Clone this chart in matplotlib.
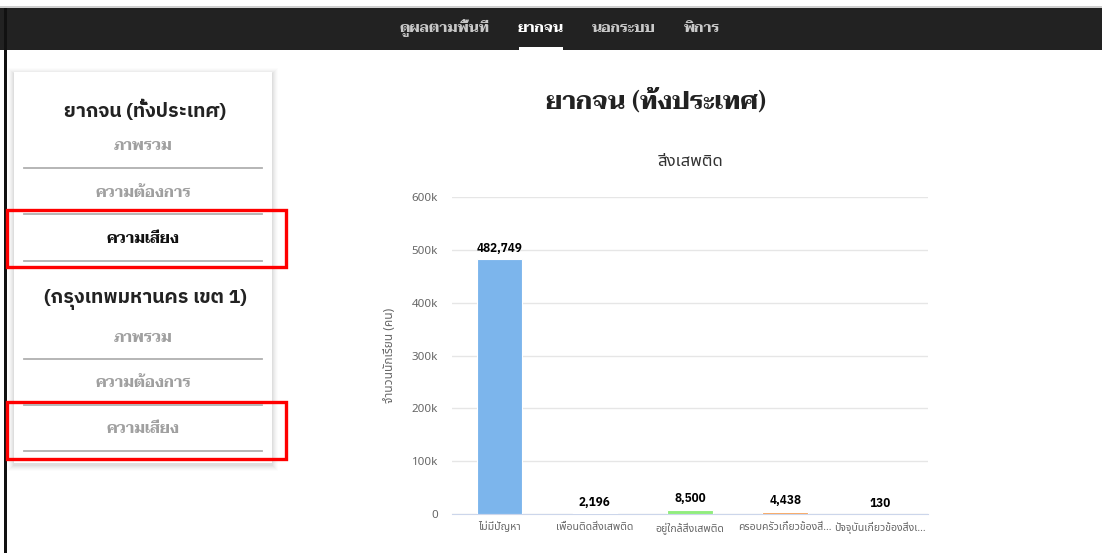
import matplotlib
matplotlib.use("Agg")
import matplotlib.pyplot as plt
from matplotlib.patches import Rectangle
from matplotlib.ticker import FuncFormatter

# data
categories = ["ไม่มีปัญหา", "เพื่อนติดสิ่งเสพติด", "อยู่ใกล้สิ่งเสพติด",
              "ครอบครัวเกี่ยวข้องสิ่งเสพติด", "ปัจจุบันเกี่ยวข้องสิ่งเสพติด"]
tick_labels = ["ไม่มีปัญหา", "เพื่อนติดสิ่งเสพติด", "อยู่ใกล้สิ่งเสพติด",
               "ครอบครัวเกี่ยวข้องสิ่…", "ปัจจุบันเกี่ยวข้องสิ่งเ…"]
students = [482749, 2196, 8500, 4438, 130]
bar_colors = ["#7cb5ec", "#434348", "#90ed7d", "#f7a35c", "#8085e9"]

nav_items = ["ดูผลตามพื้นที่", "ยากจน", "นอกระบบ", "พิการ"]
page_title = "ยากจน (ทั้งประเทศ)"
chart_title = "สิ่งเสพติด"
y_title = "จำนวนนักเรียน (คน)"
side_groups = ["ยากจน (ทั้งประเทศ)", "(กรุงเทพมหานคร เขต 1)"]
side_items = ["ภาพรวม", "ความต้องการ", "ความเสี่ยง"]

SANS = ["Noto Sans Thai", "DejaVu Sans"]
BOLD = ["IBM Plex Sans Thai", "DejaVu Sans"]
SERIF = ["Taviraj", "DejaVu Sans"]

W, H = 1102, 553
fig = plt.figure(figsize=(W / 100, H / 100), dpi=100)

# page background drawn in pixel coordinates
bg = fig.add_axes([0, 0, 1, 1])
bg.set_xlim(0, W)
bg.set_ylim(H, 0)
bg.axis("off")

bg.add_patch(Rectangle((0, 6), W, 2, color="#cfcfcf", lw=0))
bg.add_patch(Rectangle((0, 8), W, 42, color="#222222", lw=0))
bg.add_patch(Rectangle((4, 8), 3, H - 8, color="#111111", lw=0))

nav_x = [444, 541, 624, 702]
for i, (label, x) in enumerate(zip(nav_items, nav_x)):
    bg.text(x, 28, label, ha="center", va="center", fontsize=10.5, weight="bold",
            color="white" if i == 1 else "#c8c8c8", family=SERIF)
bg.add_patch(Rectangle((519, 47), 44, 3, color="white", lw=0))

# sidebar card with soft shadow
for k, a in zip(range(6, 0, -1), [0.012, 0.016, 0.02, 0.024, 0.028, 0.032]):
    bg.add_patch(Rectangle((14 - k, 72 - k + 2), 258 + 2 * k, 391 + 2 * k,
                           color="black", alpha=a, lw=0))
bg.add_patch(Rectangle((14, 72), 258, 391, color="white", lw=0))

group_y = [110, 299]
item_y = [[147, 193, 239], [338, 383, 429]]
line_y = [[168, 214, 261], [359, 405, 451]]
for g, name in enumerate(side_groups):
    bg.text(145, group_y[g], name, ha="center", va="center", fontsize=14,
            weight="bold", color="#222222", family=BOLD)
    for j, item in enumerate(side_items):
        active = (g == 0 and j == 2)
        bg.text(143, item_y[g][j], item, ha="center", va="center", fontsize=11,
                weight="bold", color="#111111" if active else "#a0a0a0", family=SERIF)
        bg.plot([24, 262], [line_y[g][j]] * 2, color="#b0b0b0", lw=1.3)

for top, bottom in [(210, 267), (402, 459)]:
    bg.add_patch(Rectangle((7, top), 279, bottom - top, fill=False,
                           edgecolor="#ff0000", lw=2.4))

bg.text(656, 101, page_title, ha="center", va="center", fontsize=18,
        weight="bold", color="#222222", family=SERIF)

# chart
ax = fig.add_axes([452 / W, (H - 514) / H, 476 / W, (514 - 197) / H])
x = range(len(categories))
ax.bar(x, students, width=0.48, color=bar_colors, edgecolor="white", lw=0.8, zorder=3)
ax.set_xlim(-0.5, len(categories) - 0.5)
ax.set_ylim(0, 600000)
ax.set_yticks(range(0, 600001, 100000))
ax.yaxis.set_major_formatter(FuncFormatter(lambda v, p: "0" if v == 0 else f"{int(v / 1000)}k"))
ax.set_xticks(list(x))
ax.set_xticklabels(tick_labels, family=SANS, fontsize=7.6, color="#666666")
ax.grid(axis="y", color="#e6e6e6", lw=1, zorder=0)
for s in ["top", "right", "left"]:
    ax.spines[s].set_visible(False)
ax.spines["bottom"].set_color("#ccd6eb")
ax.tick_params(axis="both", length=0)
ax.tick_params(axis="y", pad=10, labelsize=8.3, labelcolor="#666666")
ax.tick_params(axis="x", pad=6)
for lbl in ax.get_yticklabels():
    lbl.set_family(SANS)

for i, v in enumerate(students):
    ax.annotate(f"{v:,}", (i, v), xytext=(0, 3), textcoords="offset points",
                ha="center", va="bottom", fontsize=8.5, weight="bold",
                color="black", family=BOLD)

ax.set_title(chart_title, family=SANS, fontsize=12, color="#333333", pad=22)
ax.set_ylabel(y_title, family=SANS, fontsize=8.6, color="#666666")
ax.yaxis.set_label_coords(-0.118, 0.5)

fig.savefig("out.png", dpi=100)
